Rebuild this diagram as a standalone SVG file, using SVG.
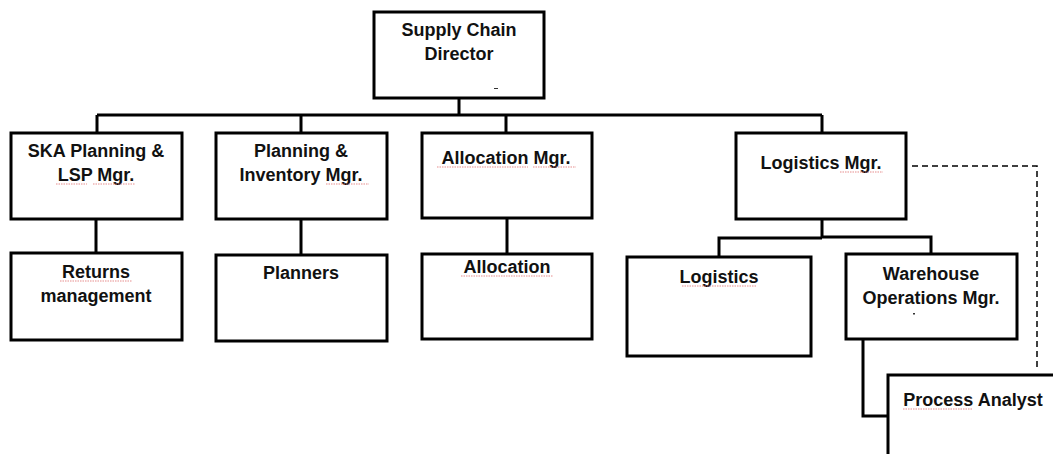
<svg xmlns="http://www.w3.org/2000/svg" width="1053" height="454" viewBox="0 0 1053 454">
  <style>
    .box { fill: #ffffff; stroke: #000000; stroke-width: 3; }
    .lbl { font-family: "Liberation Sans", Arial, sans-serif; font-weight: bold; font-size: 18px; fill: #111111; text-anchor: middle; }
    .wire { fill: none; stroke: #000000; stroke-width: 3; }
    .dash { fill: none; stroke: #000000; stroke-width: 1.5; stroke-dasharray: 6 4; }
    .spell { fill: none; stroke: #e07070; stroke-width: 1; stroke-dasharray: 1.5 1; opacity: 0.8; }
  </style>
  <rect width="1053" height="454" fill="#ffffff"/>

  <g id="connectors">
    <!-- director to first tier -->
    <path class="wire" d="M459 98 V115 M97 115 H822 M97 115 V133 M301 115 V133 M506 115 V133 M822 115 V133"/>
    <!-- first tier to second tier -->
    <path class="wire" d="M96 219 V253 M301 219 V255 M507 218 V254"/>
    <!-- logistics manager split -->
    <path class="wire" d="M822 219 V238 M719 257 V238 H822 M822 237 H931 V254"/>
    <!-- warehouse to process analyst -->
    <path class="wire" d="M863 339 V416 H888"/>
    <!-- dotted-line reporting -->
    <path class="dash" d="M912 166 H1037 V368"/>
  </g>

  <g id="director">
    <rect class="box" x="374" y="12" width="170" height="86"/>
    <text class="lbl" x="459" y="36">Supply Chain</text>
    <text class="lbl" x="459" y="60">Director</text>
    <rect x="494" y="88" width="4" height="1" fill="#333"/>
  </g>

  <g id="ska-planning">
    <rect class="box" x="11" y="133" width="171" height="86"/>
    <text class="lbl" x="96" y="157">SKA Planning &amp;</text>
    <text class="lbl" x="96" y="181">LSP Mgr.</text>
    <path class="spell" d="M56 184 H87 M93 184 H135"/>
  </g>

  <g id="planning-inventory">
    <rect class="box" x="216" y="133" width="171" height="86"/>
    <text class="lbl" x="301" y="157">Planning &amp;</text>
    <text class="lbl" x="301" y="181">Inventory Mgr.</text>
    <path class="spell" d="M326 184 H369"/>
  </g>

  <g id="allocation-mgr">
    <rect class="box" x="422" y="133" width="170" height="85"/>
    <text class="lbl" x="506" y="164">Allocation Mgr.</text>
    <path class="spell" d="M437 167 H528 M533 167 H576"/>
  </g>

  <g id="logistics-mgr">
    <rect class="box" x="736" y="133" width="170" height="86"/>
    <text class="lbl" x="821" y="169">Logistics Mgr.</text>
    <path class="spell" d="M840 172 H883"/>
  </g>

  <g id="returns">
    <rect class="box" x="11" y="253" width="171" height="87"/>
    <text class="lbl" x="96" y="278">Returns</text>
    <text class="lbl" x="96" y="302">management</text>
    <path class="spell" d="M60 281 H132"/>
  </g>

  <g id="planners">
    <rect class="box" x="216" y="255" width="171" height="86"/>
    <text class="lbl" x="301" y="279">Planners</text>
  </g>

  <g id="allocation">
    <rect class="box" x="422" y="254" width="170" height="85"/>
    <text class="lbl" x="507" y="273">Allocation</text>
    <path class="spell" d="M461 276 H553"/>
  </g>

  <g id="logistics">
    <rect class="box" x="627" y="257" width="184" height="99"/>
    <text class="lbl" x="719" y="283">Logistics</text>
    <path class="spell" d="M682 286 H757"/>
  </g>

  <g id="warehouse-ops">
    <rect class="box" x="846" y="254" width="171" height="85"/>
    <text class="lbl" x="931" y="280">Warehouse</text>
    <text class="lbl" x="931" y="304">Operations Mgr.</text>
    <rect x="913" y="313" width="2" height="1.5" fill="#333"/>
  </g>

  <g id="process-analyst">
    <rect class="box" x="888" y="375" width="180" height="100"/>
    <text class="lbl" x="973" y="406">Process Analyst</text>
    <path class="spell" d="M903 409 H972"/>
  </g>
</svg>
